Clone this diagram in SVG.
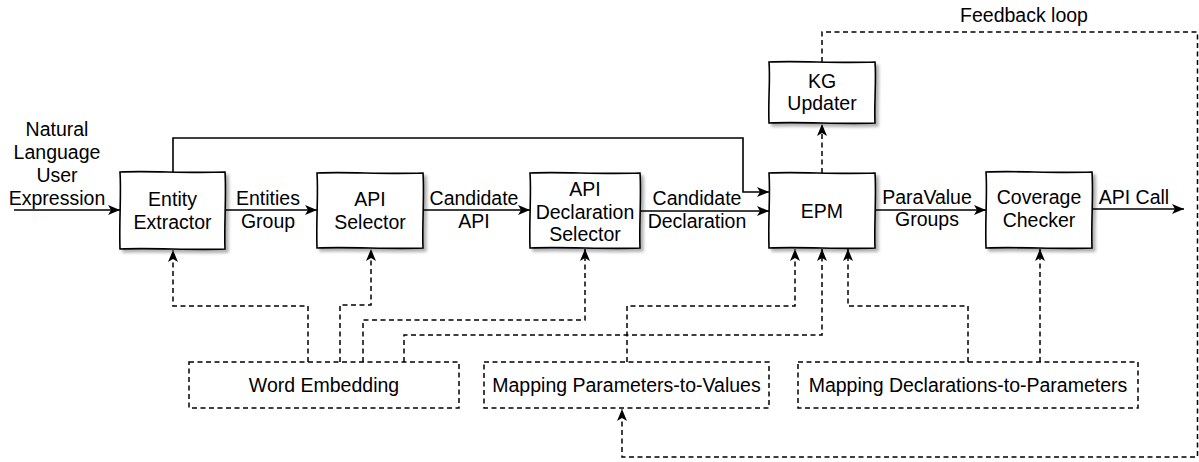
<svg xmlns="http://www.w3.org/2000/svg" width="1199" height="462" viewBox="0 0 1199 462">
<style>
text{font-family:"Liberation Sans",Arial,Helvetica,sans-serif;font-size:19.5px;fill:#000;text-anchor:middle}
.box{fill:#fff;stroke:#000;stroke-width:1.6;filter:url(#sh)}
.dbox{fill:#fff;stroke:#000;stroke-width:1.5;stroke-dasharray:5 3.5}
.s{fill:none;stroke:#000;stroke-width:1.6;marker-end:url(#arr)}
.d{fill:none;stroke:#000;stroke-width:1.5;stroke-dasharray:5 3.5;marker-end:url(#arr)}
</style>
<defs>
<filter id="sh" x="-10%" y="-10%" width="130%" height="130%">
<feDropShadow dx="3" dy="3" stdDeviation="1.5" flood-color="#000" flood-opacity="0.3"/>
</filter>
<marker id="arr" viewBox="0 0 12 10" refX="12" refY="5" markerWidth="12" markerHeight="10" markerUnits="userSpaceOnUse" orient="auto">
<path d="M0,0 L12,5 L0,10 L3,5 Z" fill="#000"/>
</marker>
</defs>

<g id="connectors">
<path class="s" d="M14,210 H120"/>
<path class="s" d="M225,210 H317"/>
<path class="s" d="M423,210 H530"/>
<path class="s" d="M640,211 H769"/>
<path class="s" d="M173,172 V138 H743 V192 H769"/>
<path class="s" d="M875,210 H986"/>
<path class="s" d="M1092,209 H1184"/>
<path class="d" d="M308,362 V306 H173 V250"/>
<path class="d" d="M340,362 V305 H371 V249"/>
<path class="d" d="M363,362 V320 H585 V249"/>
<path class="d" d="M404,362 V335 H822 V249"/>
<path class="d" d="M627,362 V306 H795 V249"/>
<path class="d" d="M968,362 V306 H848 V249"/>
<path class="d" d="M1040,362 V249"/>
<path class="d" d="M822,173 V124"/>
<path class="d" d="M822,62 V32 H1197.5 V457 H622 V409"/>
</g>

<g id="input-label">
<text x="57" y="136">Natural</text>
<text x="57" y="159">Language</text>
<text x="57" y="182">User</text>
<text x="57" y="205">Expression</text>
</g>

<g id="edge-labels">
<text x="268" y="205">Entities</text>
<text x="268" y="228">Group</text>
<text x="474" y="205">Candidate</text>
<text x="474" y="228">API</text>
<text x="697" y="205">Candidate</text>
<text x="697" y="228">Declaration</text>
<text x="927" y="204">ParaValue</text>
<text x="927" y="226">Groups</text>
<text x="1134" y="204">API Call</text>
<text x="1024" y="22">Feedback loop</text>
</g>

<g id="entity-extractor">
<path class="box" d="M120,172 C151.5,170.5 183,173.5 225,172 C226.5,195 224,226 225,249 C193.5,250.5 151.5,247.5 120,249 C119,218 121.5,195 120,172 Z"/>
<text x="172.5" y="206">Entity</text>
<text x="172.5" y="229">Extractor</text>
</g>

<g id="api-selector">
<path class="box" d="M317,173 C349,171.5 381,174.5 423,173 C424.5,195.5 422,225.5 423,248 C391,249.5 349,246.5 317,248 C316,218 318.5,195.5 317,173 Z"/>
<text x="370" y="206">API</text>
<text x="370" y="229">Selector</text>
</g>

<g id="api-declaration-selector">
<path class="box" d="M530,173 C563,171.5 596,174.5 640,173 C641.5,195.5 639,225.5 640,248 C607,249.5 563,246.5 530,248 C529,218 531.5,195.5 530,173 Z"/>
<text x="585" y="196">API</text>
<text x="585" y="219">Declaration</text>
<text x="585" y="241">Selector</text>
</g>

<g id="epm">
<path class="box" d="M769,173 C801,171.5 833,174.5 875,173 C876.5,195.5 874,225.5 875,248 C843,249.5 801,246.5 769,248 C768,218 770.5,195.5 769,173 Z"/>
<text x="822" y="218">EPM</text>
</g>

<g id="kg-updater">
<path class="box" d="M769,62 C801,60.5 833,63.5 875,62 C876.5,80 874,104 875,123 C843,124.5 801,121.5 769,123 C768,99 770.5,80 769,62 Z"/>
<text x="822" y="88">KG</text>
<text x="822" y="110">Updater</text>
</g>

<g id="coverage-checker">
<path class="box" d="M986,172 C1018,170.5 1050,173.5 1092,172 C1093.5,195 1091,225 1092,248 C1060,249.5 1018,246.5 986,248 C985,217 987.5,195 986,172 Z"/>
<text x="1039" y="204">Coverage</text>
<text x="1039" y="227">Checker</text>
</g>

<g id="word-embedding">
<rect class="dbox" x="189" y="362" width="270" height="46"/>
<text x="324" y="392">Word Embedding</text>
</g>

<g id="mapping-parameters-to-values">
<rect class="dbox" x="484" y="362" width="285" height="46"/>
<text x="626.5" y="392">Mapping Parameters-to-Values</text>
</g>

<g id="mapping-declarations-to-parameters">
<rect class="dbox" x="798" y="362" width="340" height="46"/>
<text x="968" y="392">Mapping Declarations-to-Parameters</text>
</g>
</svg>
